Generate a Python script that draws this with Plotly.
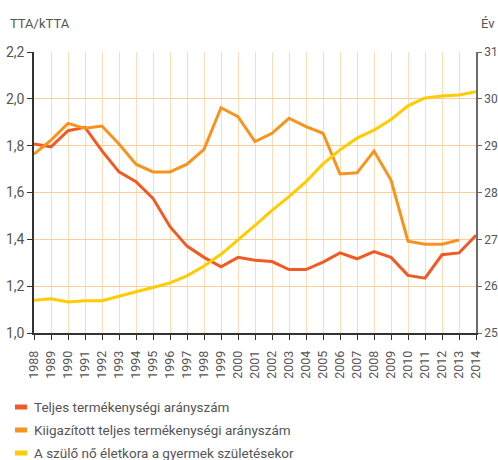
import plotly.graph_objects as go

years = list(range(1988, 2015))
teljes = [1.807, 1.795, 1.864, 1.878, 1.778, 1.688, 1.646, 1.575, 1.454, 1.371, 1.323, 1.283,
          1.323, 1.311, 1.305, 1.271, 1.271, 1.303, 1.342, 1.317, 1.348, 1.323, 1.246, 1.234,
          1.334, 1.342, 1.417]
kiigazitott = [1.764, 1.824, 1.895, 1.874, 1.884, 1.807, 1.721, 1.688, 1.688, 1.721, 1.784, 1.962,
               1.924, 1.817, 1.853, 1.917, 1.881, 1.853, 1.679, 1.684, 1.777, 1.653, 1.392, 1.379,
               1.379, 1.397, None]
eletkor = [25.70, 25.73, 25.66, 25.69, 25.69, 25.79, 25.88, 25.97, 26.07, 26.22, 26.43, 26.68,
           26.98, 27.30, 27.62, 27.91, 28.23, 28.61, 28.91, 29.16, 29.33, 29.56, 29.85, 30.02,
           30.06, 30.08, 30.15]

series_names = ["Teljes termékenységi arányszám",
                "Kiigazított teljes termékenységi arányszám",
                "A szülő nő életkora a gyermek születésekor"]
colors = ["#F15A24", "#F7931E", "#FFCC00"]

y_ticks = [1.0, 1.2, 1.4, 1.6, 1.8, 2.0, 2.2]
y_ticktext = ["1,0", "1,2", "1,4", "1,6", "1,8", "2,0", "2,2"]
y2_ticks = [25, 26, 27, 28, 29, 30, 31]
y2_ticktext = ["25", "26", "27", "28", "29", "30", "31"]
x_ticktext = [str(y) for y in years]

W, H = 498, 460
ML, MR, MT, MB = 34, 22, 52, 127
hgrid = "#FCCD98"
vgrid = "#FDDDB8"
txt = "#555555"
FONT = "Roboto"

fig = go.Figure()
fig.add_trace(go.Scatter(x=years, y=teljes, mode="lines", name=series_names[0],
                         line=dict(color=colors[0], width=3), showlegend=False))
fig.add_trace(go.Scatter(x=years, y=kiigazitott, mode="lines", name=series_names[1],
                         line=dict(color=colors[1], width=3), showlegend=False))
fig.add_trace(go.Scatter(x=years, y=eletkor, mode="lines", name=series_names[2], yaxis="y2",
                         line=dict(color=colors[2], width=3), showlegend=False))

fig.update_layout(
    width=W, height=H,
    margin=dict(l=ML, r=MR, t=MT, b=MB, pad=0, autoexpand=False),
    paper_bgcolor="white", plot_bgcolor="white",
    font=dict(family=FONT, color=txt, size=13),
    xaxis=dict(range=[1988, 2014], tickvals=years, ticktext=x_ticktext, tickangle=-90,
               automargin=False, ticklabelstandoff=6,
               showgrid=True, gridcolor=vgrid, gridwidth=1,
               showline=True, linecolor="#333333", linewidth=1.5,
               ticks="outside", ticklen=5, tickcolor="#333333", tickwidth=1,
               tickfont=dict(size=12.5, color=txt), zeroline=False),
    yaxis=dict(range=[1.0, 2.2], tickvals=y_ticks, ticktext=y_ticktext,
               automargin=False,
               showgrid=True, gridcolor=hgrid, gridwidth=1,
               showline=True, linecolor="#333333", linewidth=1.5,
               ticks="outside", ticklen=5, tickcolor="#333333", tickwidth=1,
               tickfont=dict(size=14, color=txt), zeroline=False),
    yaxis2=dict(range=[25, 31], tickvals=y2_ticks, ticktext=y2_ticktext, overlaying="y",
                side="right", showgrid=False, automargin=False, ticklabelstandoff=0,
                showline=True, linecolor="#6B6B6B", linewidth=1.5,
                ticks="outside", ticklen=4, tickcolor="#6B6B6B", tickwidth=1,
                tickfont=dict(size=12, color=txt), zeroline=False),
)

ph = H - MT - MB
pw = W - ML - MR

def px_to_paper(x, y):
    return (x - ML) / pw, (H - MB - y) / ph

# axis titles
ax, ay = px_to_paper(8, 23)
fig.add_annotation(text="TTA/kTTA", x=ax, y=ay, xref="paper", yref="paper",
                   xanchor="left", yanchor="middle", showarrow=False,
                   font=dict(size=13, color=txt))
ax, ay = px_to_paper(497, 23)
fig.add_annotation(text="Év", x=ax, y=ay, xref="paper", yref="paper",
                   xanchor="right", yanchor="middle", showarrow=False,
                   font=dict(size=13, color=txt))

# manual legend
legend_y = [407, 430, 453]
for name, col, ly in zip(series_names, colors, legend_y):
    x0, y0 = px_to_paper(15, ly - 2.5)
    x1, y1 = px_to_paper(27, ly + 2.5)
    fig.add_shape(type="rect", xref="paper", yref="paper", x0=x0, x1=x1, y0=y1, y1=y0,
                  fillcolor=col, line=dict(width=0))
    tx, ty = px_to_paper(32, ly)
    fig.add_annotation(text=name, x=tx, y=ty, xref="paper", yref="paper",
                       xanchor="left", yanchor="middle", showarrow=False,
                       font=dict(size=13.5, color=txt))

fig.write_html("out.html", config={"displayModeBar": False},
               post_script="document.body.style.margin='0';document.body.style.overflow='hidden';")
